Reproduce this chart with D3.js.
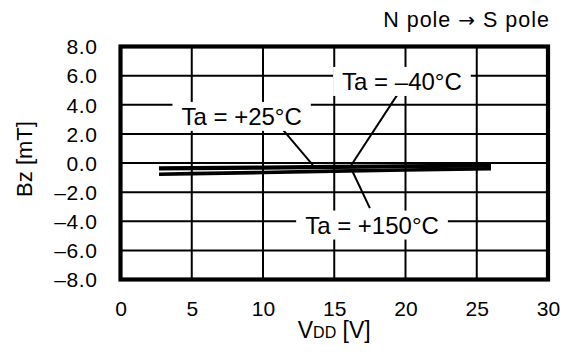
<!DOCTYPE html>
<html><head><meta charset="utf-8">
<script src="https://cdn.jsdelivr.net/npm/d3@7"></script>
<style>body{margin:0;background:#fff}svg{display:block;font-family:"Liberation Sans",Arial,sans-serif}</style>
</head><body><div id="chart"></div>
<script>
const xTicks = [0, 5, 10, 15, 20, 25, 30];
const yTicks = [8, 6, 4, 2, 0, -2, -4, -6, -8];
const vdd = [2.7, 5, 10, 15, 20, 26];
const bzM40 = [-0.40, -0.38, -0.34, -0.29, -0.24, -0.19];
const bz25 = [-0.35, -0.33, -0.29, -0.25, -0.21, -0.16];
const bz150 = [-0.77, -0.73, -0.65, -0.56, -0.48, -0.40];
const series = [
  {name: "Ta = \u201340\u00B0C", values: bzM40},
  {name: "Ta = +25\u00B0C", values: bz25},
  {name: "Ta = +150\u00B0C", values: bz150}
];
const annotations = [
  {text: "Ta = \u201340\u00B0C", lx: 19.75, ly: 5.6, x1: 19.5, y1: 4.8, x2: 16.2, y2: -0.14},
  {text: "Ta = +25\u00B0C", lx: 8.5, ly: 3.2, x1: 11.3, y1: 2.4, x2: 13.5, y2: -0.14},
  {text: "Ta = +150\u00B0C", lx: 17.65, ly: -4.26, x1: 17.5, y1: -3.1, x2: 16.3, y2: -0.62}
];

const W = 572, H = 355;
const svg = d3.select("#chart").append("svg").attr("width", W).attr("height", H);
const x = d3.scaleLinear().domain([0, 30]).range([120.5, 548]);
const y = d3.scaleLinear().domain([-8, 8]).range([279.5, 46.5]);

const g = svg.append("g");
g.selectAll(".vg").data(xTicks.slice(1, -1)).enter().append("line")
  .attr("x1", d => x(d)).attr("x2", d => x(d)).attr("y1", y(8)).attr("y2", y(-8))
  .attr("stroke", "#000").attr("stroke-width", 2);
g.selectAll(".hg").data(yTicks.slice(1, -1)).enter().append("line")
  .attr("y1", d => y(d)).attr("y2", d => y(d)).attr("x1", x(0)).attr("x2", x(30))
  .attr("stroke", "#000").attr("stroke-width", 2);

const line = d3.line().x((d, i) => x(vdd[i])).y(d => y(d));
svg.selectAll(".series").data(series).enter().append("path")
  .attr("d", d => line(d.values)).attr("fill", "none")
  .attr("stroke", "#000").attr("stroke-width", 3.6);

const ann = svg.append("g").attr("font-size", 24);
annotations.forEach(a => {
  ann.append("line").attr("x1", x(a.x1)).attr("y1", y(a.y1)).attr("x2", x(a.x2)).attr("y2", y(a.y2))
    .attr("stroke", "#000").attr("stroke-width", 2);
  const grp = ann.append("g");
  const rect = grp.append("rect").attr("fill", "#fff");
  const t = grp.append("text").attr("x", x(a.lx)).attr("y", y(a.ly))
    .attr("text-anchor", "middle").attr("dominant-baseline", "central").text(a.text);
  const bb = t.node().getBBox();
  rect.attr("x", bb.x - 9).attr("y", bb.y - 1).attr("width", bb.width + 18).attr("height", bb.height + 2);
});

svg.append("rect").attr("x", x(0)).attr("y", y(8)).attr("width", x(30) - x(0)).attr("height", y(-8) - y(8))
  .attr("fill", "none").attr("stroke", "#000").attr("stroke-width", 4.2);

const xAxis = d3.axisBottom(x).tickValues(xTicks).tickSize(0).tickPadding(0).tickFormat(d3.format("d"));
const xa = svg.append("g").attr("transform", `translate(0,${y(-8)})`).call(xAxis);
xa.select(".domain").remove();
xa.selectAll("text").attr("font-size", 21).attr("font-family", "Liberation Sans, Arial, sans-serif")
  .attr("fill", "#000").attr("y", 36).attr("dy", 0);

const yAxis = d3.axisLeft(y).tickValues(yTicks).tickSize(0).tickPadding(0)
  .tickFormat(d => (d < 0 ? "\u2013" + Math.abs(d).toFixed(1) : d.toFixed(1)));
const ya = svg.append("g").attr("transform", `translate(${x(0)},0)`).call(yAxis);
ya.select(".domain").remove();
ya.selectAll("text").attr("font-size", 21).attr("font-family", "Liberation Sans, Arial, sans-serif")
  .attr("fill", "#000").attr("x", -23).attr("dy", "0.35em").attr("letter-spacing", 0.6);

const xl = svg.append("text").attr("x", x(15)).attr("y", 338).attr("text-anchor", "middle").attr("font-size", 23);
xl.append("tspan").text("V");
xl.append("tspan").attr("font-size", 16).text("DD");
xl.append("tspan").text(" [V]");

svg.append("text").attr("transform", `translate(32,159) rotate(-90)`).attr("text-anchor", "middle")
  .attr("font-size", 22).text("Bz [mT]");

const tt = svg.append("text").attr("x", 550).attr("y", 27).attr("text-anchor", "end").attr("font-size", 21.5)
  .attr("letter-spacing", 1);
tt.append("tspan").text("N pole ");
tt.append("tspan").attr("font-family", "DejaVu Sans").attr("font-size", 20).text("\u2192");
tt.append("tspan").text(" S pole");
</script></body></html>
